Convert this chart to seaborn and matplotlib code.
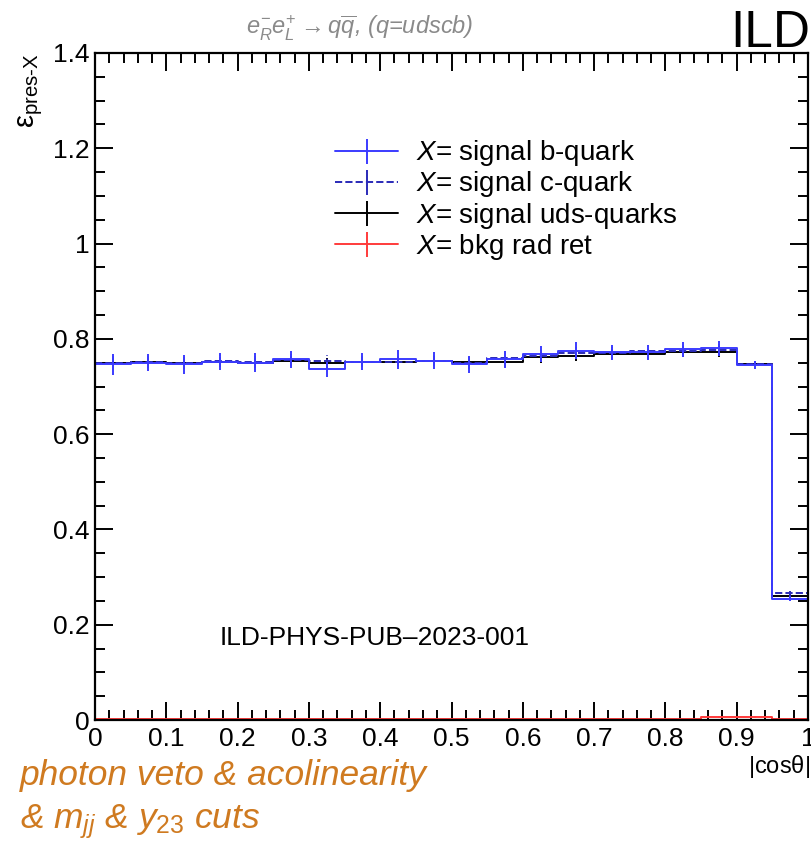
import numpy as np
import pandas as pd
import matplotlib
matplotlib.use("Agg")
import matplotlib.pyplot as plt
from matplotlib.lines import Line2D
from matplotlib.ticker import MultipleLocator, FuncFormatter
import seaborn as sns

# |cos(theta)| binning: 20 bins of width 0.05
bin_edges = [0.00, 0.05, 0.10, 0.15, 0.20, 0.25, 0.30, 0.35, 0.40, 0.45, 0.50,
             0.55, 0.60, 0.65, 0.70, 0.75, 0.80, 0.85, 0.90, 0.95, 1.00]

# preselection efficiencies per bin
eff_b = [0.747, 0.750, 0.747, 0.752, 0.750, 0.757, 0.736, 0.752, 0.757, 0.754,
         0.747, 0.757, 0.768, 0.775, 0.772, 0.772, 0.778, 0.780, 0.745, 0.255]
eff_c = [0.749, 0.751, 0.749, 0.754, 0.751, 0.756, 0.754, 0.752, 0.752, 0.754,
         0.749, 0.759, 0.764, 0.770, 0.770, 0.775, 0.775, 0.777, 0.748, 0.266]
eff_uds = [0.750, 0.751, 0.749, 0.751, 0.750, 0.754, 0.749, 0.752, 0.751, 0.753,
           0.751, 0.751, 0.761, 0.765, 0.768, 0.768, 0.773, 0.773, 0.748, 0.260]
eff_bkg = [0.002, 0.002, 0.002, 0.002, 0.002, 0.002, 0.002, 0.002, 0.002, 0.002,
           0.002, 0.002, 0.002, 0.002, 0.002, 0.002, 0.002, 0.006, 0.007, 0.003]

# statistical uncertainties per bin
err_b = [0.022, 0.018, 0.020, 0.018, 0.020, 0.018, 0.016, 0.018, 0.020, 0.018,
         0.018, 0.018, 0.016, 0.018, 0.016, 0.016, 0.016, 0.016, 0.008, 0.006]
err_c = [0.014, 0.012, 0.012, 0.012, 0.012, 0.012, 0.012, 0.012, 0.012, 0.012,
         0.012, 0.012, 0.012, 0.012, 0.012, 0.012, 0.012, 0.012, 0.006, 0.005]
err_uds = [0.011, 0.011, 0.011, 0.011, 0.011, 0.011, 0.011, 0.011, 0.011, 0.011,
           0.011, 0.011, 0.011, 0.011, 0.011, 0.011, 0.011, 0.011, 0.006, 0.005]
err_bkg = [0.001, 0.001, 0.001, 0.001, 0.001, 0.001, 0.001, 0.001, 0.001, 0.001,
           0.001, 0.001, 0.001, 0.001, 0.001, 0.001, 0.001, 0.002, 0.002, 0.001]

series_labels = ["signal b-quark", "signal c-quark", "signal uds-quarks", "bkg rad ret"]
series_colors = ["#3b3bff", "#2a2ab8", "#000000", "#ff3b3b"]
series_styles = ["-", "--", "-", "-"]

edges = np.array(bin_edges)
centers = 0.5 * (edges[:-1] + edges[1:])

sns.set_style("ticks")
plt.rcParams["font.family"] = ["Liberation Sans", "DejaVu Sans"]
plt.rcParams["text.color"] = "black"
plt.rcParams["axes.labelcolor"] = "black"
plt.rcParams["mathtext.fontset"] = "custom"
plt.rcParams["mathtext.rm"] = "Liberation Sans"
plt.rcParams["mathtext.it"] = "Liberation Sans:italic"
plt.rcParams["mathtext.bf"] = "Liberation Sans:bold"

fig = plt.figure(figsize=(8.11, 8.51), dpi=100)
ax = fig.add_axes([95 / 811, 1 - 720 / 851, 713 / 811, 667 / 851])

frames = []
for lab, vals, errs in zip(series_labels,
                           [eff_b, eff_c, eff_uds, eff_bkg],
                           [err_b, err_c, err_uds, err_bkg]):
    frames.append(pd.DataFrame({"cos": centers, "eff": vals, "err": errs, "sample": lab}))
df = pd.concat(frames, ignore_index=True)

# draw order: red, black, dashed, blue on top
for lab in [series_labels[3], series_labels[2], series_labels[1], series_labels[0]]:
    i = series_labels.index(lab)
    sub = df[df["sample"] == lab]
    sns.histplot(data=sub, x="cos", weights="eff", bins=list(bin_edges), element="step",
                 fill=False, color=series_colors[i], linestyle=series_styles[i],
                 linewidth=1.4, ax=ax)
    eb = ax.errorbar(sub["cos"], sub["eff"], yerr=sub["err"], fmt="none",
                     ecolor=series_colors[i], elinewidth=1.4, capsize=0)
    if series_styles[i] == "--":
        eb[2][0].set_linestyle("--")

ax.set_xlim(0, 1)
ax.set_ylim(0, 1.4)
ax.set_xlabel("")
ax.set_ylabel("")

ax.xaxis.set_major_locator(MultipleLocator(0.1))
ax.xaxis.set_minor_locator(MultipleLocator(0.02))
ax.yaxis.set_major_locator(MultipleLocator(0.2))
ax.yaxis.set_minor_locator(MultipleLocator(0.05))
fmt = FuncFormatter(lambda v, p: "%g" % round(v, 3))
ax.xaxis.set_major_formatter(fmt)
ax.yaxis.set_major_formatter(fmt)
ax.tick_params(which="both", direction="in", top=True, right=True, width=1.4,
               colors="black", labelsize=19)
ax.tick_params(which="major", length=13)
ax.tick_params(which="minor", length=7)
ax.tick_params(axis="x", which="major", pad=5)
ax.tick_params(axis="y", which="major", pad=4)
for s in ax.spines.values():
    s.set_linewidth(1.6)
    s.set_color("black")

# legend
handles = []
for i, lab in enumerate(series_labels):
    handles.append(Line2D([0], [0], color=series_colors[i], linestyle=series_styles[i],
                          linewidth=1.4, marker="|", markersize=18,
                          markeredgewidth=1.4, markeredgecolor=series_colors[i]))
ax.legend(handles, [r"$X$= " + lab for lab in series_labels],
          loc="upper left", bbox_to_anchor=(0.337, 0.872), frameon=False,
          fontsize=20, handlelength=2.25, handletextpad=0.65, labelspacing=0.04,
          borderpad=0, borderaxespad=0, labelcolor="black")

ax.text(0.175, 0.172, "ILD-PHYS-PUB\u20132023-001", transform=ax.transData,
        fontsize=19, ha="left", va="center")

fig.text(360 / 811, 1 - 28 / 851, r"$e^{-}_{R}e^{+}_{L} \rightarrow q\overline{q}$, (q=udscb)",
         color="#8a8a8a", fontsize=17, style="italic", ha="center", va="center")
fig.text(810 / 811, 1 - 47 / 851, "ILD", fontsize=37, ha="right", va="baseline")
fig.text(31 / 811, 1 - 53 / 851, r"$\mathrm{\varepsilon}_{\mathrm{pres\text{-}X}}$",
         fontsize=21, rotation=90, ha="center", va="top")
fig.text(810 / 811, 1 - 766 / 851, r"|cos$\mathrm{\theta}$|", fontsize=17,
         ha="right", va="center")
fig.text(20 / 811, 1 - 775 / 851, "photon veto & acolinearity", fontsize=25.5,
         style="italic", color="#cf7a20", ha="left", va="center")
fig.text(20 / 811, 1 - 822 / 851, r"& $m_{jj}$ & $y_{23}$ cuts", fontsize=25.5,
         style="italic", color="#cf7a20", ha="left", va="center")

fig.savefig("out.png", dpi=100)
